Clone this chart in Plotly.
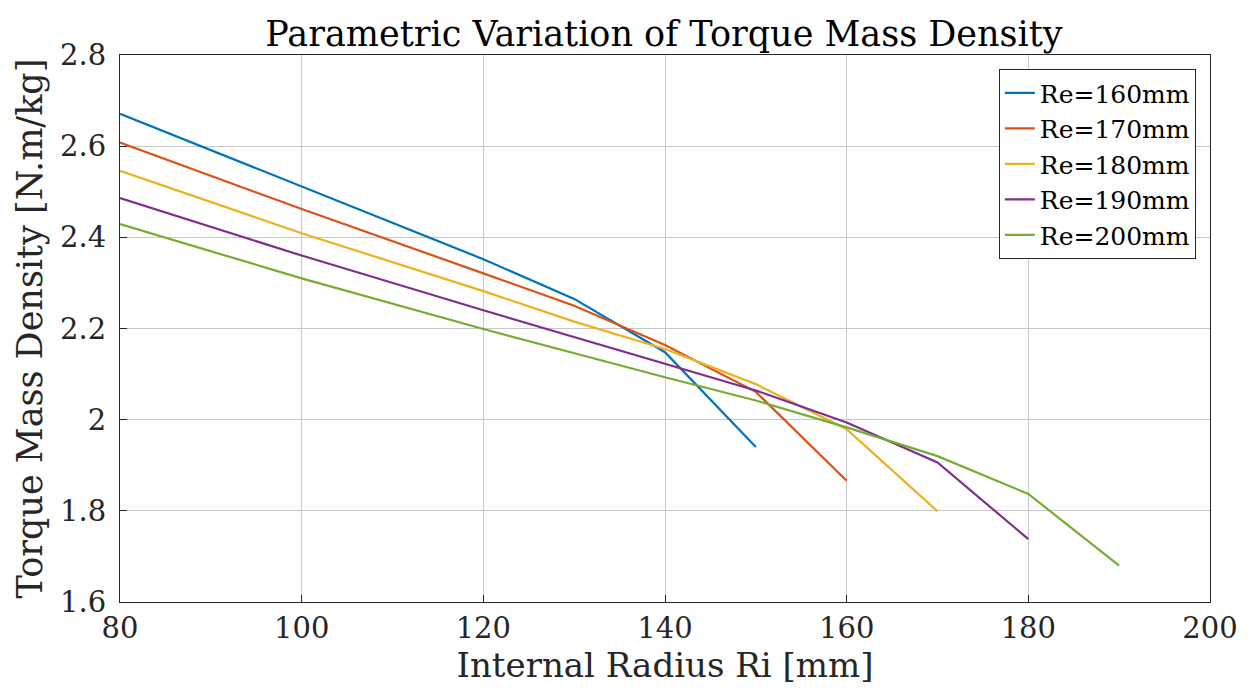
import plotly.graph_objects as go

series_names = ["Re=160mm", "Re=170mm", "Re=180mm", "Re=190mm", "Re=200mm"]
colors = ["#0072BD", "#D95319", "#EDB120", "#7E2F8E", "#77AC30"]

x_160 = [80, 100, 120, 130, 140, 150]
y_160 = [2.671, 2.512, 2.352, 2.265, 2.148, 1.940]

x_170 = [80, 100, 120, 130, 140, 150, 160]
y_170 = [2.608, 2.462, 2.321, 2.250, 2.164, 2.061, 1.866]

x_180 = [80, 100, 120, 130, 140, 150, 160, 170]
y_180 = [2.546, 2.409, 2.282, 2.215, 2.155, 2.078, 1.979, 1.799]

x_190 = [80, 100, 120, 130, 140, 150, 160, 170, 180]
y_190 = [2.486, 2.360, 2.240, 2.181, 2.122, 2.064, 1.994, 1.906, 1.738]

x_200 = [80, 100, 120, 130, 140, 150, 160, 170, 180, 190]
y_200 = [2.429, 2.310, 2.199, 2.146, 2.093, 2.042, 1.983, 1.920, 1.837, 1.680]

xs = [x_160, x_170, x_180, x_190, x_200]
ys = [y_160, y_170, y_180, y_190, y_200]

x_ticks = [80, 100, 120, 140, 160, 180, 200]
y_ticks = [1.6, 1.8, 2.0, 2.2, 2.4, 2.6, 2.8]
y_tick_text = ["1.6", "1.8", "2", "2.2", "2.4", "2.6", "2.8"]

FONT = "DejaVu Serif"

fig = go.Figure()
for name, c, x, y in zip(series_names, colors, xs, ys):
    fig.add_trace(go.Scatter(x=x, y=y, mode="lines", name=name,
                             line=dict(color=c, width=2.2)))

axis_common = dict(showline=True, linecolor="#262626", linewidth=1, mirror=True,
                   showgrid=True, gridcolor="#c8c8c8", gridwidth=1,
                   ticks="inside", ticklen=7, tickcolor="#262626",
                   zeroline=False, automargin=False,
                   tickfont=dict(family=FONT, size=29, color="#262626"))

fig.update_xaxes(range=[80, 200], tickvals=x_ticks,
                 title=dict(text="Internal Radius Ri [mm]", font=dict(family=FONT, size=34, color="#262626"), standoff=0),
                 **axis_common)
fig.update_yaxes(range=[1.6, 2.8], tickvals=y_ticks, ticktext=y_tick_text,
                 ticklabelstandoff=7,
                 title=dict(text="Torque Mass Density [N.m/kg]", font=dict(family=FONT, size=35, color="#262626"), standoff=6),
                 **axis_common)

fig.update_layout(
    width=1253, height=691,
    plot_bgcolor="white", paper_bgcolor="white",
    margin=dict(l=112, r=51, t=47, b=97),
    title=dict(text="Parametric Variation of Torque Mass Density", x=0.5235, xanchor="center",
               y=0.963, yanchor="middle", font=dict(family=FONT, size=35, color="black")),
    legend=dict(x=0.987, y=0.974, xanchor="right", yanchor="top",
                bgcolor="white", bordercolor="#262626", borderwidth=1,
                font=dict(family=FONT, size=25, color="black"),
                itemwidth=30, tracegroupgap=0),
    showlegend=True,
)

fig.write_html("out.html")
